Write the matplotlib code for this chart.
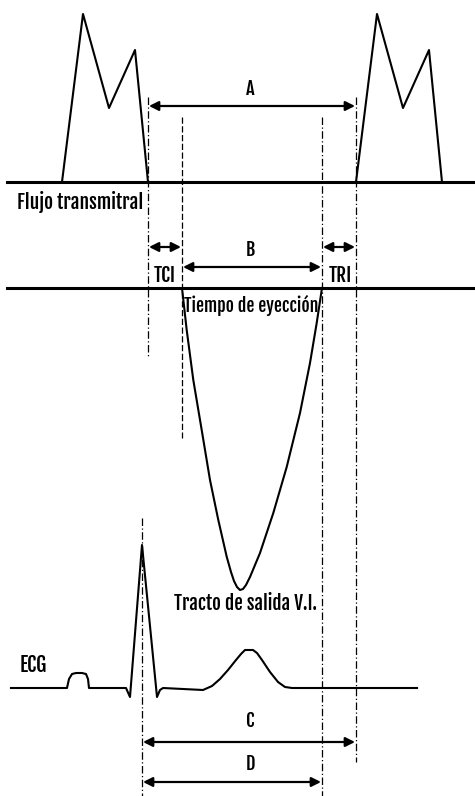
import matplotlib
matplotlib.use("Agg")
import matplotlib.pyplot as plt
from matplotlib import font_manager as fm
from matplotlib.font_manager import FontProperties
from matplotlib.textpath import TextPath

# ---------------- data (pixel-space diagram coordinates) ----------------
mitral_x = [62, 83, 109, 135, 148]          # left transmitral E/A complex
mitral_y = [182, 14, 108, 50, 182]
mitral2_x = [356, 377, 403, 429, 442]       # right transmitral E/A complex
mitral2_y = [182, 14, 108, 50, 182]

outflow_x = [182, 186.7, 193.3, 201.7, 210, 218.3, 226.7, 231, 234, 237, 240,
             243, 246, 250, 260, 273.3, 286.7, 300, 310, 316.7, 322]
outflow_y = [288, 330, 380, 430, 480, 520, 556.7, 572, 581, 587, 590,
             589, 585, 577, 553, 513, 467, 413, 363, 323, 288]

ecg_x = [11, 67, 69, 72, 76, 82, 86, 88, 89, 126, 130, 142, 157, 160, 163,
         203, 212, 220, 228, 236, 241, 245, 253, 257, 262, 270, 278, 285, 292, 417]
ecg_y = [688, 688, 679, 674, 673, 673, 674, 679, 688, 688, 697, 545, 697, 690, 688,
         690, 686, 679, 670, 660, 654, 650, 650, 653, 660, 672, 682, 687, 688, 688]

# event markers (x positions)
x_mvc, x_avo, x_avc, x_mvo, x_r = 148, 182, 322, 356, 142

labels_interval = ["A", "B", "C", "D"]

# ---------------- fonts: pick the most condensed-looking available ----------------
names = {f.name for f in fm.fontManager.ttflist}
cand = ["Antonio", "Oswald", "Fjalla One", "Pathway Gothic One", "Francois One",
        "Fira Sans Extra Condensed", "Sofia Sans Extra Condensed", "Saira Extra Condensed",
        "Barlow Condensed", "Roboto Condensed", "Archivo Narrow", "DejaVu Sans"]
avail = [c for c in cand if c in names] or ["DejaVu Sans"]
PX = 100.0 / 72.0
probe = "Tracto de salida V.I."
target_ratio = 8.8


def metrics(name):
    prop = FontProperties(family=name, weight="bold")
    w = TextPath((0, 0), probe, size=10, prop=prop).get_extents().width
    cap = TextPath((0, 0), "T", size=10, prop=prop).get_extents().height
    return w, cap


best, best_err = avail[0], 1e9
for name in avail:
    try:
        w, cap = metrics(name)
    except Exception:
        continue
    err = abs(w / cap - target_ratio)
    if err < best_err:
        best, best_err = name, err
fam = [best, "DejaVu Sans"]
PROP = FontProperties(family=best, weight="bold")


def fs_for_width(s, px):
    w10 = TextPath((0, 0), s, size=10, prop=PROP).get_extents().width
    return px / PX * 10.0 / w10


fig = plt.figure(figsize=(4.75, 7.96), dpi=100)
ax = fig.add_axes([0, 0, 1, 1])
ax.set_xlim(0, 475)
ax.set_ylim(796, 0)
ax.axis("off")

lw = 1.5
# baselines
ax.plot([7, 475], [182, 182], color="black", lw=2.2)
ax.plot([7, 475], [288, 288], color="black", lw=2.2)

# mitral flow
ax.plot(mitral_x, mitral_y, color="black", lw=lw)
ax.plot(mitral2_x, mitral2_y, color="black", lw=lw)

# outflow tract
ax.plot(outflow_x, outflow_y, color="black", lw=lw, solid_joinstyle="round")

# ECG
ax.plot(ecg_x, ecg_y, color="black", lw=lw, solid_joinstyle="round")

# vertical event lines
dl = dict(color="black", lw=0.9)
ax.plot([x_mvc, x_mvc], [97, 358], ls=(0, (6, 2, 1, 2)), **dl)
ax.plot([x_avo, x_avo], [117, 438], ls=(0, (5, 2)), **dl)
ax.plot([x_avc, x_avc], [117, 796], ls=(0, (6, 2, 1, 2)), **dl)
ax.plot([x_mvo, x_mvo], [97, 762], ls=(0, (6, 2, 1, 2)), **dl)
ax.plot([x_r, x_r], [518, 796], ls=(0, (6, 2, 1, 2)), **dl)

# interval arrows
def darrow(x0, x1, y):
    ax.annotate("", xy=(x1, y), xytext=(x0, y),
                arrowprops=dict(arrowstyle="<|-|>", color="black", lw=1.6,
                                mutation_scale=14, shrinkA=0, shrinkB=0))

darrow(x_mvc + 1, x_mvo - 1, 106)    # A
darrow(x_mvc + 1, x_avo - 1, 247)    # TCI
darrow(x_avc + 1, x_mvo - 1, 247)    # TRI
darrow(x_avo + 1, x_avc - 1, 267)    # B
darrow(x_r + 1, x_mvo - 1, 742)      # C
darrow(x_r + 1, x_avc - 1, 782)      # D

# reference size: "Flujo transmitral" spans ~123 px
fs_ref = fs_for_width("Flujo transmitral", 123)

fl = fs_ref * 0.95
tk = dict(family=fam, fontsize=fl, fontweight="bold", color="black", ha="center", va="baseline")
ax.text(250, 95, labels_interval[0], **tk)
ax.text(250, 256, labels_interval[1], **tk)
ax.text(250, 727, labels_interval[2], **tk)
ax.text(250, 770, labels_interval[3], **tk)


def lab(s, xc, yb, width, ha="center", weight="bold", scale=1.0):
    fs = min(fs_for_width(s, width), fs_ref * scale)
    ax.text(xc, yb, s, family=fam, fontsize=fs, fontweight=weight, color="black",
            ha=ha, va="baseline")


lab("Flujo transmitral", 17, 209, 123, ha="left")
lab("TCI", 165, 282, 25)
lab("TRI", 340.5, 282, 24)
lab("Tiempo de eyección", 251, 312, 132)
lab("Tracto de salida V.I.", 246, 610, 142, scale=1.05)
lab("ECG", 33.5, 672, 26, weight="normal", scale=1.05)

fig.savefig("out.png", dpi=100)
